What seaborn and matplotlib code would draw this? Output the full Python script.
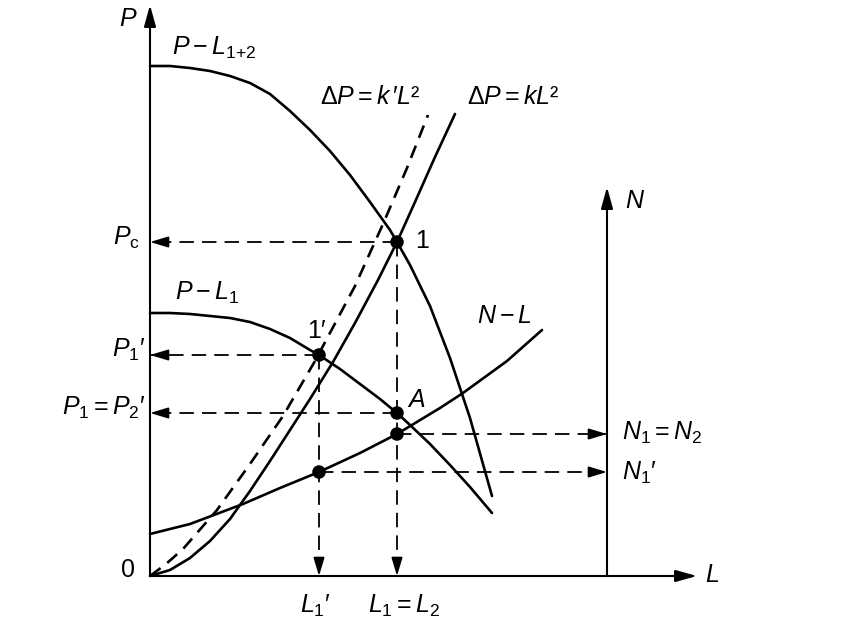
# %%
import matplotlib
matplotlib.use("Agg")
import matplotlib.pyplot as plt
import seaborn as sns
import numpy as np

# %%
# 曲线数据 (L, P)，从图上读出，单位为像素，原点为坐标轴交点
pl12_L = [0, 20, 40, 60, 80, 100, 120, 140, 160, 180, 200, 220, 240, 247, 260, 280, 300, 320, 342]
pl12_P = [510, 510, 508, 505, 500, 493, 482, 465, 446, 425, 401, 374, 346, 334, 311, 270, 218, 158, 80]

pl1_L = [0, 20, 40, 60, 80, 100, 120, 140, 160, 169, 190, 210, 230, 247, 260, 280, 300, 320, 342]
pl1_P = [263, 263, 262, 260, 258, 254, 247, 238, 226, 221, 207, 192, 177, 163, 151, 132, 111, 89, 63]

k_L = [0, 20, 40, 60, 80, 100, 120, 140, 160, 183, 205, 228, 247, 265, 285, 305]
k_P = [0, 6, 18, 35, 57, 85, 115, 146, 177, 214, 253, 296, 334, 374, 419, 462]

kp_L = [0, 16, 33, 67, 100, 133, 165, 205, 233, 257, 278]
kp_P = [0, 12, 27, 66, 112, 160, 215, 290, 352, 408, 461]

nl_L = [0, 40, 93, 130, 169, 210, 247, 290, 313, 357, 392]
nl_N = [42, 52, 72, 88, 104, 123, 142, 168, 183, 215, 246]

# 工作点
L1, L1p = 247, 169
Pc, P1p, P1 = 334, 221, 163
N1, N1p = 142, 104

# 坐标轴长度
L_max, P_max = 547, 571
N_x, N_max = 457, 389

# %%
sns.set_style("white")
plt.rcParams["font.family"] = ["Liberation Sans", "DejaVu Sans"]
plt.rcParams["mathtext.fontset"] = "custom"
plt.rcParams["mathtext.rm"] = "Liberation Sans"
plt.rcParams["mathtext.it"] = "Liberation Sans:italic"
plt.rcParams["mathtext.bf"] = "Liberation Sans:bold"

fig = plt.figure(figsize=(8.5, 6.2), dpi=100)
ax = fig.add_axes([0, 0, 1, 1])
ax.set_xlim(-150, 700)
ax.set_ylim(-44, 576)
ax.axis("off")

lw = 1.9
for xs, ys, ls in [(pl12_L, pl12_P, "-"), (pl1_L, pl1_P, "-"), (k_L, k_P, "-"),
                   (kp_L, kp_P, (0, (5, 3.2))), (nl_L, nl_N, "-")]:
  sns.lineplot(x=xs, y=ys, sort=False, estimator=None, color="black",
               lw=lw, linestyle=ls, ax=ax)


def arrow(x0, y0, x1, y1, hl=11, hw=3.4, alw=1.5):
  ax.annotate("", xy=(x1, y1), xytext=(x0, y0),
              arrowprops=dict(arrowstyle=f"-|>,head_length={hl},head_width={hw}",
                              mutation_scale=1, color="black", lw=alw,
                              shrinkA=0, shrinkB=0))


# 坐标轴
arrow(0, 0, 0, P_max, hl=13, hw=3.6)
arrow(0, 0, L_max, 0, hl=13, hw=3.6)
arrow(N_x, 0, N_x, N_max, hl=13, hw=3.6)


def guide(x0, y0, x1, y1):
  ax.plot([x0, x1], [y0, y1], color="black", lw=1.3, linestyle=(0, (8, 4.5)))
  d = np.hypot(x1 - x0, y1 - y0)
  ux, uy = (x1 - x0) / d, (y1 - y0) / d
  arrow(x1 - 16 * ux, y1 - 16 * uy, x1, y1, hl=11, hw=3.3, alw=1.3)


guide(L1, Pc, 0, Pc)
guide(L1, Pc, L1, 0)
guide(L1p, P1p, 0, P1p)
guide(L1p, P1p, L1p, 0)
guide(L1, P1, 0, P1)
guide(L1, N1, N_x, N1)
guide(L1p, N1p, N_x, N1p)

sns.scatterplot(x=[L1, L1p, L1, L1, L1p], y=[Pc, P1p, P1, N1, N1p],
                s=95, color="black", edgecolor="none", zorder=5, ax=ax)

# 文字
fs = 18
txt = dict(fontsize=fs, va="baseline", color="black")
ax.text(-22, 550, r"$P$", ha="center", **txt)
ax.text(-22, -1, "0", ha="center", **txt)
ax.text(555, -6, r"$L$", ha="left", **txt)
ax.text(475, 368, r"$N$", ha="left", **txt)
ax.text(22, 521, r"$P-L_{1{+}2}$", ha="left", **txt)
ax.text(170, 472, r"$\Delta P=k\,$′$L$²", ha="left", **txt)
ax.text(317, 472, r"$\Delta P=kL$²", ha="left", **txt)
ax.text(-10, 331, r"$P_{\mathrm{c}}$", ha="right", **txt)
ax.text(265, 328, "1", ha="left", **txt)
ax.text(25, 276, r"$P-L_1$", ha="left", **txt)
ax.text(157, 238, "1′", ha="left", **txt)
ax.text(327, 253, r"$N-L$", ha="left", **txt)
ax.text(257, 169, r"$A$", ha="left", **txt)
ax.text(-5, 219, r"$P_1$′", ha="right", **txt)
ax.text(-5, 161, r"$P_1=P_2$′", ha="right", **txt)
ax.text(472, 136, r"$N_1=N_2$", ha="left", **txt)
ax.text(472, 96, r"$N_1$′", ha="left", **txt)
ax.text(150, -37, r"$L_1$′", ha="left", **txt)
ax.text(218, -37, r"$L_1=L_2$", ha="left", **txt)

plt.savefig("out.png", dpi=100, facecolor="white")
